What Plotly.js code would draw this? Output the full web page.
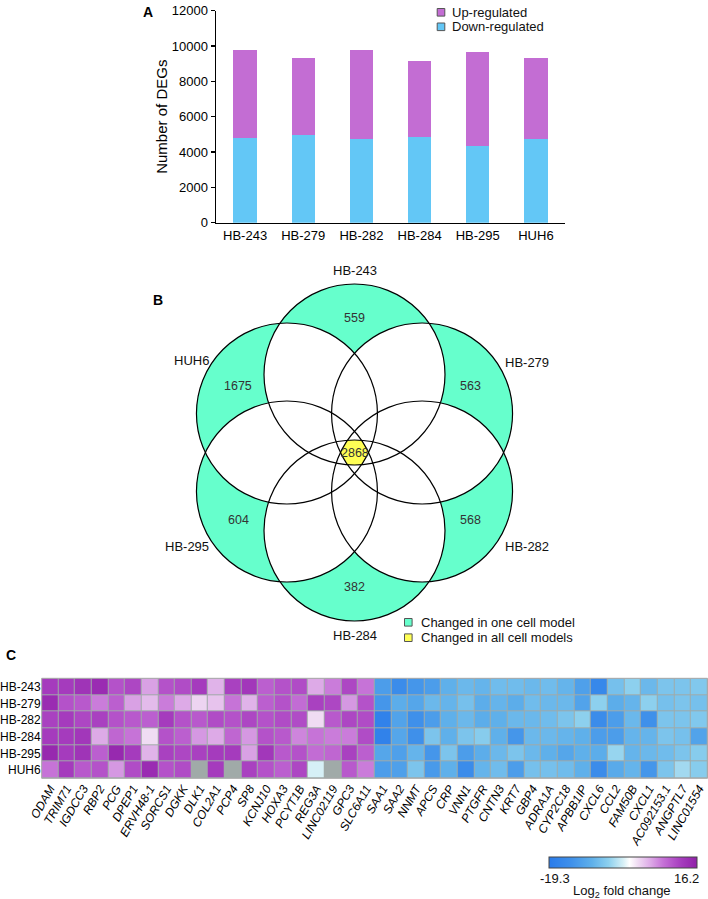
<!DOCTYPE html>
<html><head><meta charset="utf-8">
<script src="https://cdn.plot.ly/plotly-3.0.1.min.js"></script>
<style>html,body{margin:0;padding:0;background:#fff}</style>
</head><body><div id="chart" style="width:708px;height:899px"></div>
<script>
// ---------- DATA ----------
const samples = ['HB-243','HB-279','HB-282','HB-284','HB-295','HUH6'];
const downDEGs = [4810, 4940, 4720, 4870, 4360, 4720];
const upDEGs   = [4970, 4380, 5060, 4300, 5320, 4600];
const barSeries = ['Up-regulated','Down-regulated'];

const vennSets = ['HB-243','HB-279','HB-282','HB-284','HB-295','HUH6'];
const uniqueCounts = [559, 563, 568, 382, 604, 1675];
const sharedAllCount = 2868;
const vennLegend = ['Changed in one cell model','Changed in all cell models'];

const genes = ['ODAM','TRIM71','IGDCC3','RBP2','PCG','DPEP1','ERVH48-1','SORCS1','DGKK','DLK1',
  'COL2A1','PCP4','SP8','KCNJ10','HOXA3','PCYT1B','REG3A','LINC02119','GPC3','SLC6A11',
  'SAA1','SAA2','NNMT','APCS','CRP','VNN1','PTGFR','CNTN3','KRT7','GBP4',
  'ADRA1A','CYP2C18','APBB1IP','CXCL6','CCL2','FAM50B','CXCL1','AC092153.1','ANGPTL7','LINC01554'];
const heatRows = ['HB-243','HB-279','HB-282','HB-284','HB-295','HUH6'];
const fcHB243 = [12.5,12.5,13.5,14.5,10.5,11.5,5.5,10.5,11,12.5,4.5,12,13,9.5,10.5,11,5,7.5,11.5,8,
  -12,-15,-13,-12,-9,-8,-8.5,-7.5,-7.5,-8,-7.5,-8.5,-11.5,-16,-7,-5,-8,-6.5,-6.5,-6];
const fcHB279 = [14.5,10.5,10,7.5,9.5,5.5,4,7.5,5,2.5,3.5,8,4.5,9.5,10.5,8.5,12,11.5,6,10.5,
  -13,-9.5,-10.5,-8,-8.5,-7,-9.5,-8.5,-9.5,-7.5,-8,-8,-11,-5,-9.5,-8.5,-5,-7,-6.5,-7];
const fcHB282 = [12,12.5,11.5,12,10.5,10,9.5,12.5,10.5,10,11,10.5,11.5,10.5,11,11,2,10,11.5,11,
  -17.5,-11,-14,-12,-9,-8,-9.5,-9,-8,-8,-7.5,-6.5,-5,-15,-12,-8,-14,-6.5,-6.5,-6];
const fcHB284 = [12.5,12.5,13,5,9,8,2,10.5,9.5,6,5,9,6,10.5,10,7,8,7.5,7.5,11,
  -17.5,-10.5,-14,-6.5,-9,-6.5,-5.5,-9,-13,-8,-8,-8.5,-9,-12,-12,-8.5,-8.5,-6.5,-7,-11];
const fcHB295 = [15,12.5,13.5,9.5,15,12.5,4.5,12,11.5,12,12.5,12.5,5.5,13,10,10.5,8.5,9,12,9.5,
  -10.5,-11.5,-8.5,-13,-6.5,-12,-9.5,-8,-6.5,-8,-9,-10.5,-9,-9.5,-4.5,-8.5,-8,-7.5,-6.5,-5.5];
const fcHUH6 = [8,12.5,10,10.5,6,11,14.5,10.5,11,null,12.5,null,12,10.5,9.5,11.5,-1.5,null,10,7.5,
  -12,-11.5,-6.5,-12.5,-9,-15,-8.5,-7.5,-12,-7,-7,-7.5,-9,-15,-10,-8.5,-13,-6.5,-4,-5.5];
const fcMin = -19.3, fcMax = 16.2;

// ---------- LAYOUT HELPERS ----------
const W = 708, H = 899;
const px = x => x / W;
const py = y => 1 - y / H;
const FONT = 'Arial, "Liberation Sans", Helvetica, sans-serif';
const UP_COLOR = '#C36DD3', DOWN_COLOR = '#63C7F6';
const GREEN = '#66FFCC', YELLOW = '#FFFF55';

// Venn geometry (pixels)
const vcx = 354.5, vcy = 452.5, vOff = 78, vR = 90.5;
const vAngles = [90, 30, -30, -90, -150, 150];
const vCenters = vAngles.map(a => [vcx + vOff*Math.cos(a*Math.PI/180), vcy - vOff*Math.sin(a*Math.PI/180)]);
const labelOffsets = [[0,-182],[172,-90],[172,93.5],[0,182.5],[-168,93.5],[-163,-91.5]];
const countDist = 134;

function regionPath(idx, p0) {
  const N = 240; let s = '';
  for (let k = 0; k < N; k++) {
    const th = 2*Math.PI*k/N, ux = Math.cos(th), uy = Math.sin(th);
    let tmin = Infinity;
    idx.forEach(i => {
      const wx = p0[0]-vCenters[i][0], wy = p0[1]-vCenters[i][1];
      const b = wx*ux + wy*uy, c = wx*wx + wy*wy - vR*vR;
      const t = -b + Math.sqrt(b*b - c);
      if (t < tmin) tmin = t;
    });
    const x = p0[0] + tmin*ux, y = p0[1] + tmin*uy;
    s += (k === 0 ? 'M' : 'L') + px(x).toFixed(5) + ',' + py(y).toFixed(5);
  }
  return s + 'Z';
}

const shapes = [];
vCenters.forEach(c => shapes.push({type:'circle', xref:'paper', yref:'paper',
  x0: px(c[0]-vR), x1: px(c[0]+vR), y0: py(c[1]+vR), y1: py(c[1]-vR),
  fillcolor: GREEN, line:{width:0}}));
for (let i = 0; i < 6; i++) for (let j = i+1; j < 6; j++) {
  const mid = [(vCenters[i][0]+vCenters[j][0])/2, (vCenters[i][1]+vCenters[j][1])/2];
  shapes.push({type:'path', xref:'paper', yref:'paper', path: regionPath([i,j], mid),
    fillcolor:'#FFFFFF', line:{width:0}});
}
shapes.push({type:'path', xref:'paper', yref:'paper', path: regionPath([0,1,2,3,4,5],[vcx,vcy]),
  fillcolor: YELLOW, line:{width:0}});
vCenters.forEach(c => shapes.push({type:'circle', xref:'paper', yref:'paper',
  x0: px(c[0]-vR), x1: px(c[0]+vR), y0: py(c[1]+vR), y1: py(c[1]-vR),
  fillcolor:'rgba(0,0,0,0)', line:{width:1.2, color:'#000'}}));

const legendSquare = (xc, yc, col) => shapes.push({type:'rect', xref:'paper', yref:'paper',
  x0: px(xc-3.8), x1: px(xc+3.8), y0: py(yc+3.8), y1: py(yc-3.8), fillcolor: col, line:{width:1, color:'#555'}});
legendSquare(408.3, 622.3, GREEN);
legendSquare(408.3, 637.7, YELLOW);
legendSquare(441, 12.3, UP_COLOR);
legendSquare(441, 26.8, DOWN_COLOR);

shapes.push({type:'rect', xref:'x2 domain', yref:'y2 domain', x0:0, x1:1, y0:0, y1:1, layer:'below',
  fillcolor:'#A0AAA8', line:{width:0}});
shapes.push({type:'rect', xref:'x2 domain', yref:'y2 domain', x0:0, x1:1, y0:0, y1:1,
  fillcolor:'rgba(0,0,0,0)', line:{width:1, color:'#A8A8A8'}});

const annotations = [];
const ann = (x, y, text, size, color, extra) => annotations.push(Object.assign({
  xref:'paper', yref:'paper', x: px(x), y: py(y), text, showarrow:false,
  font:{family:FONT, size, color}, xanchor:'center', yanchor:'middle'}, extra||{}));
ann(147.5, 12, '<b>A</b>', 14, '#000');
ann(158, 300, '<b>B</b>', 14, '#000');
ann(11, 655, '<b>C</b>', 14, '#000');
ann(449.5, 12.3, barSeries[0], 13, '#111', {xanchor:'left'});
ann(449.5, 26.8, barSeries[1], 13, '#111', {xanchor:'left'});
vennSets.forEach((s, i) => {
  const c = [vcx + labelOffsets[i][0], vcy + labelOffsets[i][1]];
  ann(c[0], c[1], s, 13, '#111');
  const a = vAngles[i]*Math.PI/180;
  ann(vcx + countDist*Math.cos(a), vcy - countDist*Math.sin(a), String(uniqueCounts[i]), 12.5, '#333');
});
ann(vcx, vcy, String(sharedAllCount), 12.5, '#333');
ann(418.5, 622.3, vennLegend[0], 13, '#111', {xanchor:'left'});
ann(418.5, 637.7, vennLegend[1], 13, '#111', {xanchor:'left'});
ann(555, 878.5, String(fcMin), 13, '#111');
ann(686.5, 878.5, String(fcMax), 13, '#111');
ann(621.5, 891, 'Log<sub>2</sub> fold change', 13, '#111');

const colorscale = [
  [0.000, '#2A7BEA'],
  [0.149, '#3F90EA'],
  [0.290, '#5FB0EA'],
  [0.403, '#8DD0EE'],
  [0.501, '#D6F0F6'],
  [0.544, '#FFFFFF'],
  [0.600, '#F0DCF3'],
  [0.685, '#DDAAE7'],
  [0.769, '#C673D7'],
  [0.840, '#B452C9'],
  [0.896, '#A53BBD'],
  [1.000, '#9020A8']
];

const traces = [
  {type:'bar', x: samples, y: downDEGs, name: barSeries[1], xaxis:'x', yaxis:'y',
   marker:{color: DOWN_COLOR}, width:0.4, showlegend:false},
  {type:'bar', x: samples, y: upDEGs, name: barSeries[0], xaxis:'x', yaxis:'y',
   marker:{color: UP_COLOR}, width:0.4, showlegend:false},
  {type:'heatmap', x: genes, y: heatRows,
   z: [fcHB243, fcHB279, fcHB282, fcHB284, fcHB295, fcHUH6],
   xaxis:'x2', yaxis:'y2', zmin: fcMin, zmax: fcMax, colorscale, xgap:1, ygap:1,
   showlegend:false, hoverongaps:false,
   colorbar:{orientation:'h', lenmode:'pixels', len:148, thickness:11,
     x: px(622.5), xanchor:'center', y: py(862.8), yanchor:'middle',
     xpad:0, ypad:0, outlinewidth:1, outlinecolor:'#444', showticklabels:false, ticks:''}}
];

const layout = {
  width: W, height: H, margin:{l:0, r:0, t:0, b:0},
  paper_bgcolor:'#fff', plot_bgcolor:'rgba(0,0,0,0)',
  font:{family:FONT, color:'#000'},
  barmode:'stack',
  showlegend:false,
  xaxis:{domain:[px(216), px(565)], anchor:'y', range:[-0.5, 5.5], showline:true, linecolor:'#000',
    linewidth:1.5, ticks:'', showgrid:false, zeroline:false, tickfont:{size:13, color:'#000'}, fixedrange:true},
  yaxis:{domain:[py(222.7), py(10.7)], anchor:'x', range:[0, 12000], dtick:2000, tickformat:'d', showline:true,
    linecolor:'#000', linewidth:1.5, ticks:'outside', ticklen:4, tickwidth:1.5, tickcolor:'#000',
    showgrid:false, zeroline:false, tickfont:{size:13, color:'#000'}, fixedrange:true,
    title:{text:'Number of DEGs', font:{size:15, color:'#000'}, standoff:0}},
  xaxis2:{domain:[px(41.7), px(707.5)], anchor:'y2', tickangle:-60, ticks:'', showgrid:false,
    zeroline:false, showline:false, tickfont:{size:12, style:'italic', color:'#000'}, fixedrange:true},
  yaxis2:{domain:[py(778.3), py(678.3)], anchor:'x2', autorange:'reversed', ticks:'', showgrid:false,
    zeroline:false, showline:false, tickfont:{size:12, color:'#000'}, ticklabelstandoff:0, fixedrange:true},
  shapes, annotations
};

Plotly.newPlot('chart', traces, layout, {displayModeBar:false, staticPlot:true});
</script></body></html>
